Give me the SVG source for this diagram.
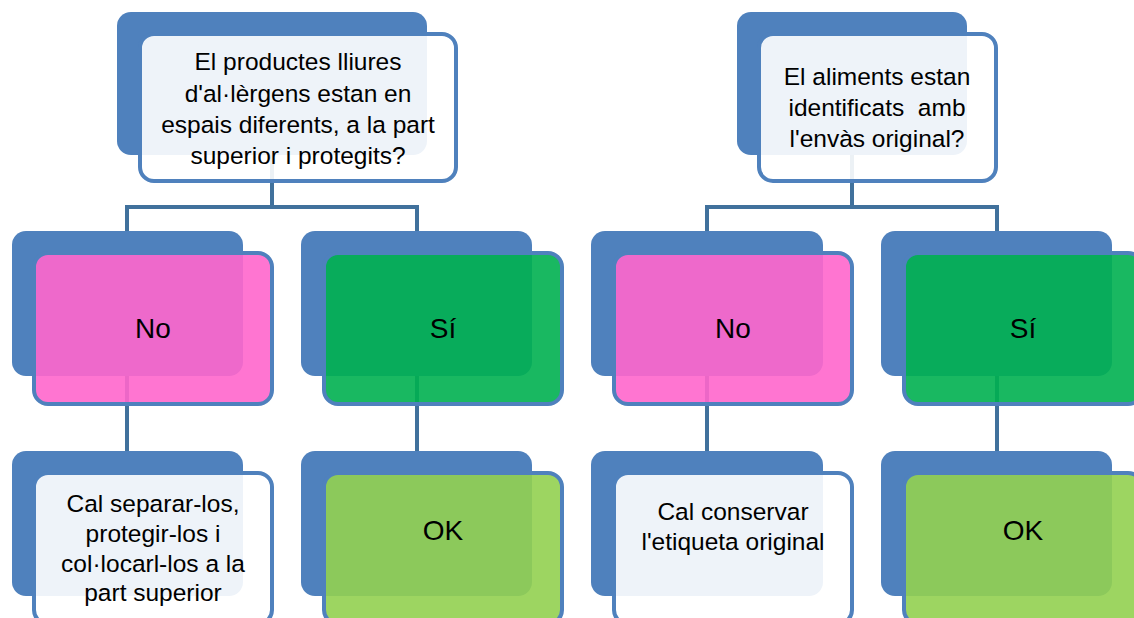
<svg xmlns="http://www.w3.org/2000/svg" width="1134" height="618" viewBox="0 0 1134 618">
<style>
.back{fill:#4f81bd}
.front{stroke:#4f81bd;stroke-width:4;fill-opacity:0.9}
.w{fill:#ffffff}
.pink{fill:#ff66cc}
.green{fill:#00b050}
.lgreen{fill:#92d050}
.conn{stroke:#41719c;stroke-width:4;fill:none}
text{font-family:"Liberation Sans",Arial,sans-serif;fill:#000;text-anchor:middle}
.t{font-size:24.5px}
.big{font-size:28px}
</style>
<rect width="1134" height="618" fill="#ffffff"/>
<g id="connectors">
<path class="conn" d="M272 155V207M127 207H417M127 205V231M417 205V231"/>
<path class="conn" d="M127 376V451M417 376V451"/>
<path class="conn" d="M852 155V207M707 207H997M707 205V231M997 205V231"/>
<path class="conn" d="M707 376V451M997 376V451"/>
</g>
<g id="q1">
<rect class="back" x="117" y="12" width="310" height="143" rx="14"/>
<rect class="front w" x="140" y="34" width="316" height="147" rx="14"/>
<text class="t"><tspan x="298" y="70">El productes lliures</tspan><tspan x="298" y="102">d'al·lèrgens estan en</tspan><tspan x="298" y="133">espais diferents, a la part</tspan><tspan x="298" y="164">superior i protegits?</tspan></text>
</g>
<g id="no1">
<rect class="back" x="12" y="231" width="231" height="145" rx="14"/>
<rect class="front pink" x="34" y="253" width="238" height="151" rx="14"/>
<text class="big" x="153" y="338">No</text>
</g>
<g id="si1">
<rect class="back" x="301" y="231" width="231" height="145" rx="14"/>
<rect class="front green" x="324" y="253" width="238" height="151" rx="14"/>
<text class="big" x="443" y="338">Sí</text>
</g>
<g id="act1">
<rect class="back" x="12" y="451" width="231" height="145" rx="14"/>
<rect class="front w" x="34" y="473" width="238" height="151" rx="14"/>
<text class="t"><tspan x="153" y="512">Cal separar-los,</tspan><tspan x="153" y="542">protegir-los i</tspan><tspan x="153" y="572">col·locarl-los a la</tspan><tspan x="153" y="601">part superior</tspan></text>
</g>
<g id="ok1">
<rect class="back" x="301" y="451" width="231" height="145" rx="14"/>
<rect class="front lgreen" x="324" y="473" width="238" height="151" rx="14"/>
<text class="big" x="443" y="540">OK</text>
</g>
<g id="q2">
<rect class="back" x="737" y="12" width="230" height="143" rx="14"/>
<rect class="front w" x="759" y="34" width="237" height="147" rx="14"/>
<text class="t"><tspan x="877" y="85">El aliments estan</tspan><tspan x="877" y="116" xml:space="preserve">identificats  amb</tspan><tspan x="877" y="147">l'envàs original?</tspan></text>
</g>
<g id="no2">
<rect class="back" x="591" y="231" width="232" height="145" rx="14"/>
<rect class="front pink" x="614" y="253" width="238" height="151" rx="14"/>
<text class="big" x="733" y="338">No</text>
</g>
<g id="si2">
<rect class="back" x="881" y="231" width="231" height="145" rx="14"/>
<rect class="front green" x="904" y="253" width="238" height="151" rx="14"/>
<text class="big" x="1023" y="338">Sí</text>
</g>
<g id="act2">
<rect class="back" x="591" y="451" width="232" height="145" rx="14"/>
<rect class="front w" x="614" y="473" width="238" height="151" rx="14"/>
<text class="t"><tspan x="733" y="520">Cal conservar</tspan><tspan x="733" y="550">l'etiqueta original</tspan></text>
</g>
<g id="ok2">
<rect class="back" x="881" y="451" width="231" height="145" rx="14"/>
<rect class="front lgreen" x="904" y="473" width="238" height="151" rx="14"/>
<text class="big" x="1023" y="540">OK</text>
</g>
</svg>
